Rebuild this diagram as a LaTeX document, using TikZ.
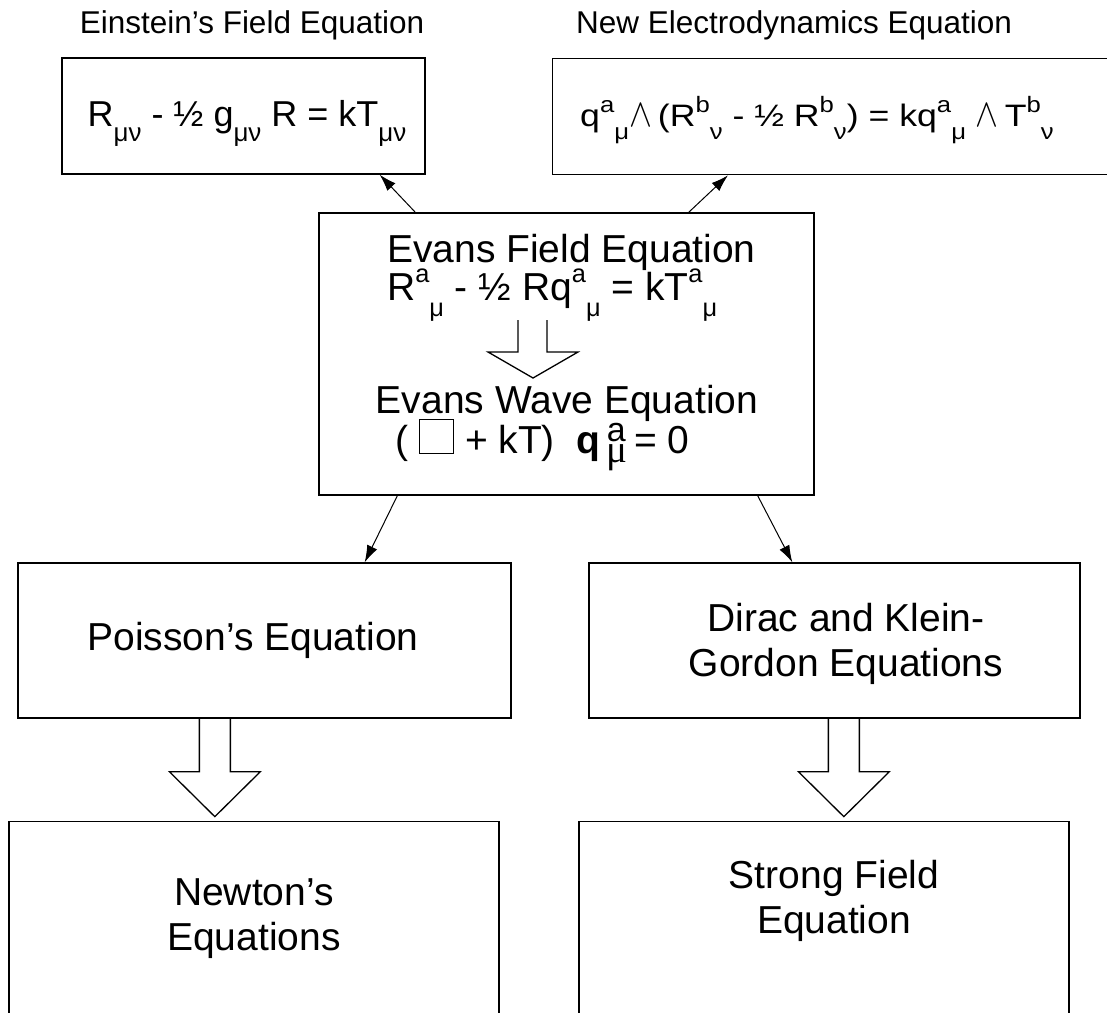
\documentclass[tikz,border=0pt]{standalone}
\usepackage{fontspec}
\usepackage{graphicx}
\setmainfont{Liberation Sans}
\newfontfamily\greekserif{Liberation Serif}
\usetikzlibrary{arrows.meta,positioning,calc}
\newcommand{\idxup}[2][0.65]{\raisebox{0.44em}{\scalebox{#1}{#2}}}
\newcommand{\idxdn}[2][0.65]{\raisebox{-0.42em}{\scalebox{#1}{#2}}}
\newcommand{\wedgesym}{\scalebox{1.2}[1.6]{$\wedge$}}
\newcommand{\wide}[1]{\scalebox{1.15}[1]{#1}}
\setlength{\fboxsep}{0pt}
\setlength{\fboxrule}{1pt}

\begin{document}
\begin{tikzpicture}[x=1pt, y=-1pt,
    box/.style={rectangle, draw, line width=1.3pt, inner sep=0pt},
    title/.style={font=\fontsize{31.5}{36}\selectfont, anchor=base, inner sep=0pt},
    formula/.style={font=\fontsize{36}{42}\selectfont, anchor=base, inner sep=0pt},
    big/.style={font=\fontsize{39}{45}\selectfont, align=center},
    arrow/.style={-{Latex[length=17pt,width=11pt]}, line width=1pt},
    hollow/.style={draw, line width=1.3pt, line join=miter}
]
\useasboundingbox (0,0) rectangle (1107,1012);
\clip (0,0) rectangle (1107,1012);

% top row
\node[box, minimum width=363pt, minimum height=116pt] (einst) at (243.5,116) {};
\node[formula] (einsteq) at (247,126) {R\idxdn[0.72]{μν} - ½ g\idxdn[0.72]{μν} R = kT\idxdn[0.72]{μν}};
\node[title] (einsttitle) at (252,33) {Einstein’s Field Equation};
\node[box, minimum width=600pt, minimum height=116pt, anchor=north west] (newel) at (552,58) {};
\node[formula, font=\fontsize{31}{36}\selectfont, anchor=base west] (neweleq) at (580,126) {\wide{q\idxup[0.72]{a}\idxdn[0.72]{μ}\wedgesym\,(R\idxup[0.72]{b}\idxdn[0.72]{ν} - ½ R\idxup[0.72]{b}\idxdn[0.72]{ν}) = kq\idxup[0.72]{a}\idxdn[0.72]{μ} \wedgesym\,T\idxup[0.72]{b}\idxdn[0.72]{ν}}};
\node[title] (neweltitle) at (794,33) {New Electrodynamics Equation};

% Evans box
\node[box, minimum width=495pt, minimum height=282pt] (evans) at (566.5,354) {};
\node[big, anchor=base west, inner sep=0pt] (evfield) at (387,262) {Evans Field Equation};
\node[big, anchor=base west, inner sep=0pt] (evfieldeq) at (387,300) {R\idxup{a}\idxdn{μ} - ½ Rq\idxup{a}\idxdn{μ} = kT\idxup{a}\idxdn{μ}};
\node[big, anchor=base, inner sep=0pt] (evwave) at (567,413) {Evans Wave Equation};
\node[big, anchor=base west, inner sep=0pt] (evwaveeq) at (395,453) {( \fbox{\rule{0pt}{0.85em}\hspace{0.85em}} + kT)\ \ \textbf{q}\,\rlap{\raisebox{0.3em}{\scalebox{0.87}{a}}}\raisebox{-0.25em}{\greekserif μ}\,= 0};
% field -> wave
\draw[hollow] (518,320) -- ++(0,32) -- ++(-30,0) -- ++(45,26) -- ++(45,-26) -- ++(-31,0) -- ++(0,-32);

% middle row
\node[box, minimum width=493pt, minimum height=155pt] (poisson) at (264.5,640.5) {};
\node[big] (poissontxt) at (253,640.5) {Poisson’s Equation};
\node[box, minimum width=491pt, minimum height=155pt] (dirac) at (834.5,640.5) {};
\node[big] (diractxt) at (846,644) {Dirac and Klein-\\Gordon Equations};

% bottom row
\node[box, minimum width=490pt, minimum height=300pt, anchor=north] (newton) at (254,821) {};
\node[big] (newtontxt) at (254,919) {Newton’s\\Equations};
\node[box, minimum width=490pt, minimum height=300pt, anchor=north] (strong) at (824,821) {};
\node[big] (strongtxt) at (834,901) {Strong Field\\Equation};

% connectors
\draw[arrow] ($(evans.north west)+(97,0)$) -- ($(einst.south east)+(-46,0)$);
\draw[arrow] ($(evans.north east)+(-126,0)$) -- ($(newel.south west)+(176,0)$);
\draw[arrow] ($(evans.south west)+(79,0)$) -- ($(poisson.north east)+(-147,0)$);
\draw[arrow] ($(evans.south east)+(-57,0)$) -- ($(dirac.north west)+(204,0)$);

% hollow arrows
\draw[hollow] ($(poisson.south west)+(182,0)$) -- ++(0,53) -- ++(-30,0) -- ++(45.5,45) -- ++(45.5,-45) -- ++(-30,0) -- ++(0,-53);
\draw[hollow] ($(dirac.south west)+(240,0)$) -- ++(0,53) -- ++(-30,0) -- ++(45.5,45) -- ++(45.5,-45) -- ++(-30,0) -- ++(0,-53);
\end{tikzpicture}
\end{document}
